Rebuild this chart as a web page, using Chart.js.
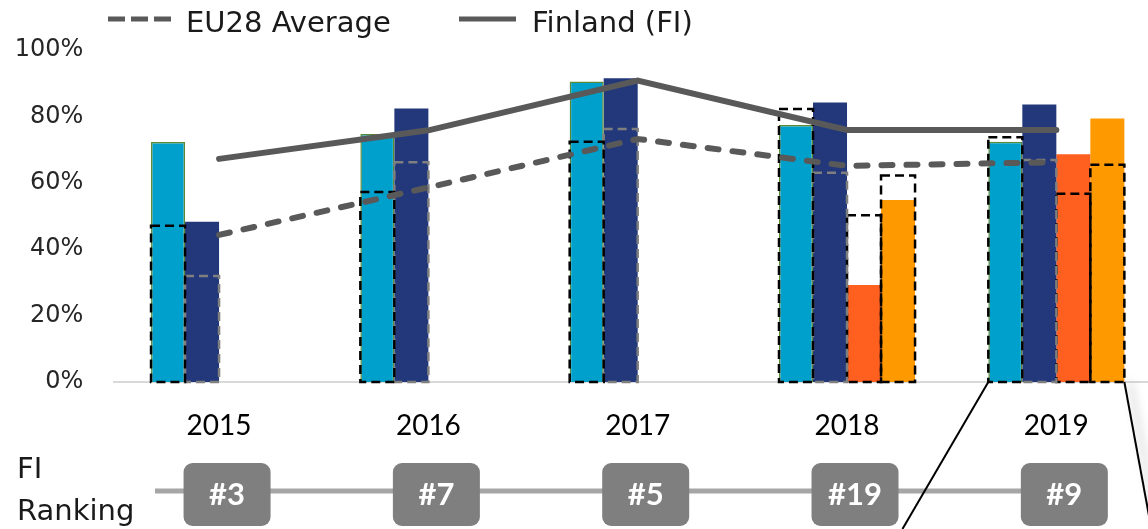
<!DOCTYPE html>
<html>
<head>
<meta charset="utf-8">
<script src="https://cdn.jsdelivr.net/npm/chart.js@4.4.1/dist/chart.umd.min.js"></script>
<style>
  html, body { margin: 0; padding: 0; background: #fff; overflow: hidden; }
  #wrap { position: relative; width: 1161px; height: 529px; }
</style>
</head>
<body>
<div id="wrap"><canvas id="chart"></canvas></div>
<script>
// données (en %)
const years = ['2015', '2016', '2017', '2018', '2019'];
const fiIndicatorA = [72.3, 74.7, 90.5, 77.4, 72.4];
const fiIndicatorB = [48.3, 82.4, 91.5, 84.2, 83.6];
const fiIndicatorC = [null, null, null, 29.2, 68.6];
const fiIndicatorD = [null, null, null, 54.8, 79.4];
const euIndicatorA = [47.1, 57.2, 72.4, 82.2, 73.7];
const euIndicatorB = [31.9, 66.2, 76.2, 63.0, 66.9];
const euIndicatorC = [null, null, null, 50.2, 56.7];
const euIndicatorD = [null, null, null, 62.2, 65.4];
const fiAverage = [67.2, 75.8, 90.8, 75.9, 75.9];
const euAverage = [44.3, 58.6, 73.2, 65.1, 66.2];
const fiRanking = ['#3', '#7', '#5', '#19', '#9'];
const yTicks = [0, 20, 40, 60, 80, 100];

const GREY_LINE = '#595959';

// contours en pointillés pour la moyenne UE de chaque barre + décor (légende, classement, loupe)
const extrasPlugin = {
    id: 'extras',
    afterDatasetDraw(chart, args) {
        const ds = chart.data.datasets[args.index];
        if (!ds.dashOutline) return;
        const ctx = chart.ctx;
        ctx.save();
        ctx.strokeStyle = ds.dashOutline;
        ctx.lineWidth = 2.5;
        ctx.setLineDash([9, 5]);
        args.meta.data.forEach((bar, i) => {
            if (ds.data[i] == null) return;
            const p = bar.getProps(['x', 'y', 'base', 'width'], true);
            ctx.strokeRect(p.x - p.width / 2, p.y, p.width, p.base - p.y);
        });
        ctx.restore();
    },
    afterDraw(chart) {
        const ctx = chart.ctx;
        const xs = chart.scales.x;
        ctx.save();

        // légende
        ctx.lineWidth = 5;
        ctx.strokeStyle = GREY_LINE;
        ctx.setLineDash([17, 6]);
        ctx.beginPath(); ctx.moveTo(108, 19); ctx.lineTo(171, 19); ctx.stroke();
        ctx.setLineDash([]);
        ctx.beginPath(); ctx.moveTo(459, 19); ctx.lineTo(516, 19); ctx.stroke();
        ctx.fillStyle = '#1a1a1a';
        ctx.font = '29px "DejaVu Sans"';
        ctx.textBaseline = 'alphabetic';
        ctx.textAlign = 'left';
        ctx.fillText('EU28 Average', 186, 32);
        ctx.fillText('Finland (FI)', 532, 32);

        // classement FI
        ctx.fillText('FI', 17, 478);
        ctx.fillText('Ranking', 17, 520);
        const lastX = xs.getPixelForValue(years.length - 1) + 8;
        ctx.strokeStyle = '#a6a6a6';
        ctx.lineWidth = 5;
        ctx.beginPath(); ctx.moveTo(155, 491); ctx.lineTo(lastX, 491); ctx.stroke();
        fiRanking.forEach((r, i) => {
            const cx = xs.getPixelForValue(i) + 8;
            ctx.fillStyle = '#7f7f7f';
            ctx.beginPath();
            ctx.roundRect(cx - 43.5, 463, 87, 63, 9);
            ctx.fill();
            ctx.fillStyle = '#fff';
            ctx.font = 'bold 31px Lato';
            ctx.textAlign = 'center';
            ctx.textBaseline = 'middle';
            ctx.fillText(r, cx, 495);
        });

        // lignes de la loupe sur 2019
        const last = years.length - 1;
        const a = chart.getDatasetMeta(0).data[last].getProps(['x', 'width', 'base'], true);
        const d = chart.getDatasetMeta(3).data[last].getProps(['x', 'width', 'base'], true);
        const x0 = a.x - a.width / 2, x1 = d.x + d.width / 2, base = a.base;
        const bottom = chart.height;
        ctx.strokeStyle = '#000';
        ctx.lineWidth = 2;
        ctx.beginPath(); ctx.moveTo(x0, base); ctx.lineTo(x0 - 0.584 * (bottom - base), bottom); ctx.stroke();
        ctx.shadowColor = 'rgba(0,0,0,0.35)';
        ctx.shadowBlur = 10;
        ctx.shadowOffsetX = 6;
        ctx.beginPath(); ctx.moveTo(x1, base); ctx.lineTo(x1 + 0.184 * (bottom - base), bottom); ctx.stroke();
        ctx.restore();
    }
};

const barDs = (data, color, stack, extra) => Object.assign({
    type: 'bar', data, backgroundColor: color, borderWidth: 0, stack, order: 3
}, extra || {});
const outlineDs = (data, color, stack) => ({
    type: 'bar', data, backgroundColor: 'transparent', borderWidth: 0, stack, order: 2, dashOutline: color
});

new Chart(document.getElementById('chart'), {
    type: 'bar',
    data: {
        labels: years,
        datasets: [
            barDs(fiIndicatorA, '#00a0cd', 's1', { borderColor: '#5b8a35', borderWidth: 1.5 }),
            barDs(fiIndicatorB, '#22387a', 's2'),
            barDs(fiIndicatorC, '#ff5f1f', 's3'),
            barDs(fiIndicatorD, '#ff9900', 's4'),
            outlineDs(euIndicatorA, '#000', 's1'),
            outlineDs(euIndicatorB, '#7f7f7f', 's2'),
            outlineDs(euIndicatorC, '#000', 's3'),
            outlineDs(euIndicatorD, '#000', 's4'),
            { type: 'line', label: 'Finland (FI)', data: fiAverage, borderColor: GREY_LINE, borderWidth: 6,
              pointRadius: 0, fill: false, tension: 0, order: 1, borderCapStyle: 'round' },
            { type: 'line', label: 'EU28 Average', data: euAverage, borderColor: GREY_LINE, borderWidth: 6,
              borderDash: [11, 14], borderCapStyle: 'round', pointRadius: 0, fill: false, tension: 0, order: 1 }
        ]
    },
    options: {
        responsive: true,
        maintainAspectRatio: false,
        animation: false,
        layout: { padding: { top: 50, left: 0, right: 0, bottom: 0 } },
        datasets: { bar: { categoryPercentage: 0.65, barPercentage: 1 } },
        plugins: { legend: { display: false }, tooltip: { enabled: false } },
        scales: {
            x: {
                offset: true,
                grid: { display: false, drawTicks: false },
                border: { color: '#d9d9d9', width: 2 },
                ticks: { font: { family: 'Lato', size: 28 }, color: '#000', padding: 27 },
                afterFit: s => { s.height = 147; }
            },
            y: {
                min: 0, max: 100, stacked: false,
                afterBuildTicks: s => { s.ticks = yTicks.map(v => ({ value: v })); },
                grid: { display: false, drawTicks: false },
                border: { display: false },
                ticks: { callback: v => v + '%', font: { family: 'DejaVu Sans', size: 24 }, color: '#262626', padding: 31 },
                afterFit: s => { s.width = 114.4; }
            }
        }
    },
    plugins: [extrasPlugin]
});
</script>
</body>
</html>
